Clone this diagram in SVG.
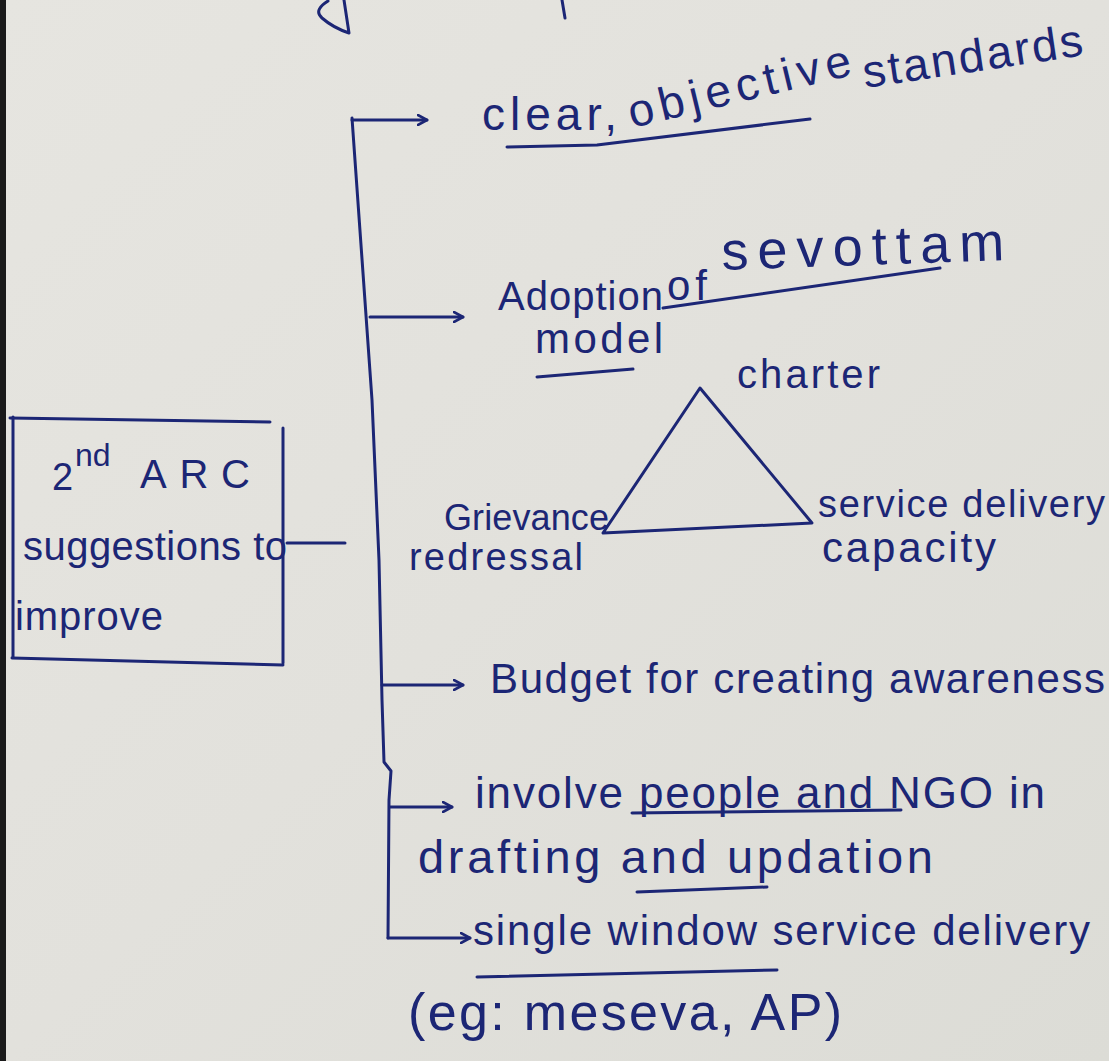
<svg xmlns="http://www.w3.org/2000/svg" width="1109" height="1061" viewBox="0 0 1109 1061">
  <defs>
    <linearGradient id="paper" x1="0" y1="0" x2="1" y2="1">
      <stop offset="0" stop-color="#e6e5e0"/>
      <stop offset="0.5" stop-color="#e2e1dc"/>
      <stop offset="1" stop-color="#dcdcd6"/>
    </linearGradient>
    <marker id="arrow" viewBox="0 0 12 12" refX="10" refY="6" markerWidth="12" markerHeight="12" markerUnits="userSpaceOnUse" orient="auto">
      <path d="M1,1 L10,6 L1,11" fill="none" stroke="#1c2675" stroke-width="2.6" stroke-linecap="round" stroke-linejoin="round"/>
    </marker>
    <style>
      .ink { fill: none; stroke: #1c2675; stroke-width: 3; stroke-linecap: round; stroke-linejoin: round; }
      .hand { font-family: "Liberation Sans", "DejaVu Sans", sans-serif; fill: #1c2675; }
    </style>
  </defs>

  <!-- paper sheet and its dark left edge -->
  <rect x="0" y="0" width="1109" height="1061" fill="url(#paper)"/>
  <rect x="0" y="0" width="6" height="1061" fill="#1a1a1a"/>

  <!-- ink strokes running in from the line above -->
  <path class="ink" d="M328,1 C320,6 315,12 322,18 C330,25 340,30 349,33 L344,0"/>
  <path class="ink" d="M562,0 L565,18"/>

  <!-- root node -->
  <g id="node-arc">
    <path class="ink" d="M10,418 L270,422"/>
    <path class="ink" d="M283,428 L283,663"/>
    <path class="ink" d="M12,658 L283,665"/>
    <path class="ink" d="M13,417 L13,657"/>
    <text class="hand" x="52" y="490" font-size="38">2</text>
    <text class="hand" x="75" y="466" font-size="32">nd</text>
    <text class="hand" x="140" y="488" font-size="40" textLength="110">ARC</text>
    <text class="hand" x="23" y="560" font-size="40" textLength="264">suggestions to</text>
    <text class="hand" x="15" y="630" font-size="40" textLength="148">improve</text>
  </g>

  <!-- connectors -->
  <g id="connectors">
    <path class="ink" d="M287,543 L345,543"/>
    <path class="ink" d="M352,118 L372,400 L379,560 L382,700 L384,762 L391,771 L389,800 L388,938"/>
    <path class="ink" d="M352,120 L427,120" marker-end="url(#arrow)"/>
    <path class="ink" d="M370,317 L463,317" marker-end="url(#arrow)"/>
    <path class="ink" d="M382,685 L463,685" marker-end="url(#arrow)"/>
    <path class="ink" d="M390,807 L452,807" marker-end="url(#arrow)"/>
    <path class="ink" d="M388,938 L470,938" marker-end="url(#arrow)"/>
  </g>

  <g id="node-standards">
    <text class="hand" x="482" y="130" font-size="46" textLength="135">clear,</text>
    <text class="hand" x="632" y="128" font-size="46" textLength="228" transform="rotate(-13.5 632 128)">objective</text>
    <text class="hand" x="865" y="88" font-size="46" textLength="222" transform="rotate(-8.5 865 88)">standards</text>
    <path class="ink" d="M507,147 L597,145 L810,119"/>
  </g>

  <g id="node-sevottam">
    <text class="hand" x="498" y="310" font-size="40" textLength="165">Adoption</text>
    <text class="hand" x="667" y="300" font-size="42" textLength="40">of</text>
    <text class="hand" x="722" y="270" font-size="54" textLength="283" transform="rotate(-2 722 270)">sevottam</text>
    <path class="ink" d="M663,308 L940,268"/>
    <text class="hand" x="535" y="353" font-size="42" textLength="128">model</text>
    <path class="ink" d="M537,377 L633,369"/>
  </g>

  <g id="node-triangle">
    <path class="ink" d="M700,388 L603,533 L812,523 Z"/>
    <text class="hand" x="737" y="388" font-size="40" textLength="143">charter</text>
    <text class="hand" x="444" y="530" font-size="36" textLength="165">Grievance</text>
    <text class="hand" x="409" y="570" font-size="38" textLength="174">redressal</text>
    <text class="hand" x="818" y="517" font-size="38" textLength="287">service delivery</text>
    <text class="hand" x="822" y="562" font-size="42" textLength="174">capacity</text>
  </g>

  <g id="node-budget">
    <text class="hand" x="490" y="693" font-size="42" textLength="615">Budget for creating awareness</text>
  </g>

  <g id="node-involve">
    <text class="hand" x="475" y="808" font-size="44" textLength="570">involve people and NGO in</text>
    <path class="ink" d="M632,813 L901,810"/>
    <text class="hand" x="418" y="873" font-size="47" textLength="515">drafting and updation</text>
    <path class="ink" d="M637,892 L767,887"/>
  </g>

  <g id="node-single-window">
    <text class="hand" x="473" y="945" font-size="42" textLength="617">single window service delivery</text>
    <path class="ink" d="M477,977 L777,970"/>
    <text class="hand" x="408" y="1030" font-size="52" textLength="434">(eg: meseva, AP)</text>
  </g>
</svg>
